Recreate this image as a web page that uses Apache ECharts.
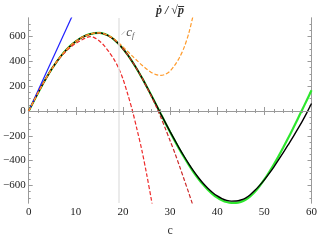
<!DOCTYPE html>
<html><head><meta charset="utf-8">
<script src="https://cdn.jsdelivr.net/npm/echarts@6/dist/echarts.min.js"></script>
<style>html,body{margin:0;padding:0;background:#fff}#c{width:320px;height:242px}</style>
</head><body><div id="c"></div>
<script>
// x grid for the exact curve and its close approximation
const cExact = [];
for (let i = 0; i <= 60; i++) cExact.push(i);
// exact curve (black)
const exactVals = [0,75,148,218,284,345,401,451,494,531,562,588,607,620,628,630,622,606,580,545,502,452,396,335,269,199,127,53,-22,-94,-166,-235,-303,-367,-428,-485,-536,-583,-623,-657,-685,-706,-721,-727,-726,-718,-703,-675,-640,-600,-555,-505,-452,-395,-335,-275,-215,-150,-85,-15,60];
// approximation (green)
const greenVals = [0,75,148,218,284,345,401,451,494,531,562,588,607,620,628,630,622,606,580,545,502,452,396,335,269,199,127,53,-22,-96,-170,-241,-310,-375,-437,-495,-547,-594,-635,-670,-698,-719,-734,-741,-741,-733,-716,-688,-652,-605,-552,-494,-432,-366,-295,-222,-147,-70,8,87,167];
// linear approximation (blue)
const cLinear = [0, 10];
const linearVals = [0, 830];
// bright red dashed approximation
const cRed1 = [0,1,2,3,4,5,6,7,8,9,10,11,12,13,14,15,16,17,18,19,20,21,22,23,24,25,26,27];
const red1Vals = [0,75,148,218,284,344,398,445,485,518,545,568,588,600,590,565,527,478,422,352,258,137,3,-152,-315,-505,-710,-930];
// darker red dashed approximation
const cRed2 = [0,1,2,3,4,5,6,7,8,9,10,11,12,13,14,15,16,17,18,19,20,21,22,23,24,25,26,27,28,29,30,31,32,33,34,35];
const red2Vals = [0,75,148,218,284,345,401,451,494,531,562,588,607,620,628,630,622,606,580,545,502,452,396,335,269,196,120,40,-48,-142,-240,-338,-445,-555,-665,-780];
// orange dashed approximation
const cOrange = [0,1,2,3,4,5,6,7,8,9,10,11,12,13,14,15,16,17,18,19,20,21,22,23,24,25,26,27,28,29,30,31,32,33,34,35];
const orangeVals = [0,75,148,218,284,345,401,451,494,531,562,588,607,620,628,630,623,608,585,554,517,480,443,406,371,339,311,293,287,296,322,370,432,515,632,790];
// c_f marker
const cF = 19.2;
// axis ticks
const yMajor = [-600,-400,-200,0,200,400,600];
const yMinor = [];
for (let v = -700; v <= 700; v += 50) yMinor.push(v);
const Y_MIN = -742, Y_MAX = 750;

const zip = (xs, ys) => xs.map((x, i) => [x, ys[i]]);
const serif = 'Liberation Serif';
const frame = '#9a9a9a';

const xBase = {
  type: 'value', min: 0, max: 60, interval: 10,
  axisLine: {show: true, lineStyle: {color: frame, width: 1}},
  axisTick: {show: true, inside: true, length: 4, lineStyle: {color: frame}},
  minorTick: {show: true, splitNumber: 5, length: 2, lineStyle: {color: frame}},
  splitLine: {show: false}, minorSplitLine: {show: false}
};
const yBase = (pos, vals, len, labels) => ({
  type: 'value', min: Y_MIN, max: Y_MAX, position: pos,
  axisLine: {show: true, lineStyle: {color: frame, width: 1}},
  axisTick: {show: true, inside: true, length: len, customValues: vals, lineStyle: {color: frame}},
  axisLabel: labels ? {show: true, customValues: vals, color: '#222', fontFamily: serif, fontSize: 11, margin: 3,
    formatter: v => (v < 0 ? '\u2212' + Math.abs(v) : String(v))} : {show: false},
  splitLine: {show: false}
});

const chart = echarts.init(document.getElementById('c'), null, {renderer: 'canvas'});
chart.setOption({
  animation: false,
  backgroundColor: '#fff',
  title: {
    text: '{a|\u1E57 / }{b|\u221A}{c|p\u0305}',
    left: 151, top: 0,
    textStyle: {rich: {
      a: {fontFamily: serif, fontStyle: 'italic', fontSize: 12, color: '#333'},
      b: {fontFamily: serif, fontSize: 12, color: '#333'},
      c: {fontFamily: serif, fontStyle: 'italic', fontSize: 12, color: '#333'}
    }}
  },
  grid: {left: 25, right: 6, top: 18, bottom: 31, containLabel: false},
  xAxis: [
    Object.assign({}, xBase, {position: 'bottom',
      name: 'c', nameLocation: 'middle', nameGap: 22,
      nameTextStyle: {fontFamily: serif, fontSize: 12, color: '#333'},
      axisLabel: {color: '#222', fontFamily: serif, fontSize: 11, margin: 4}}),
    Object.assign({}, xBase, {position: 'top', axisLabel: {show: false}})
  ],
  yAxis: [
    yBase('left', yMajor, 4, true),
    yBase('left', yMinor, 2, false),
    yBase('right', yMajor, 4, false),
    yBase('right', yMinor, 2, false)
  ],
  series: [
    {type: 'line', name: 'green', data: zip(cExact, greenVals), showSymbol: false, smooth: 0.3,
     lineStyle: {color: '#2ee62e', width: 2.2}, z: 2,
     markLine: {silent: true, symbol: 'none', animation: false,
       lineStyle: {color: '#e4e4e4', width: 1.5, type: 'solid'}, label: {show: false},
       data: [{xAxis: cF}]}},
    {type: 'line', name: 'exact', data: zip(cExact, exactVals), showSymbol: false, smooth: 0.3,
     lineStyle: {color: '#000', width: 1.4}, z: 3,
     markLine: {silent: true, symbol: 'none', animation: false,
       lineStyle: {color: '#9a9a9a', width: 1.2, type: 'solid'}, label: {show: false},
       data: [{yAxis: 0}]}},
    {type: 'line', name: 'linear', data: zip(cLinear, linearVals), showSymbol: false,
     lineStyle: {color: '#1f1fff', width: 1.2}, z: 4},
    {type: 'line', name: 'red1', data: zip(cRed1, red1Vals), showSymbol: false, smooth: 0.3,
     lineStyle: {color: '#ee2a2a', width: 1.2, type: [4, 2]}, z: 4},
    {type: 'line', name: 'red2', data: zip(cRed2, red2Vals), showSymbol: false, smooth: 0.3,
     lineStyle: {color: '#cc2a2a', width: 1.2, type: [4, 2]}, z: 4},
    {type: 'line', name: 'orange', data: zip(cOrange, orangeVals), showSymbol: false, smooth: 0.3,
     lineStyle: {color: '#ff9a2a', width: 1.2, type: [4, 2]}, z: 4,
     markPoint: {silent: true, symbol: 'circle', symbolSize: 1, animation: false,
       itemStyle: {color: 'rgba(0,0,0,0)'},
       data: [{coord: [20.6, 633], label: {show: true, position: 'right', distance: 0,
         formatter: '{c|c}{f|f}',
         rich: {c: {fontFamily: serif, fontStyle: 'italic', fontSize: 13, color: '#555'},
                f: {fontFamily: serif, fontStyle: 'italic', fontSize: 8, color: '#555', padding: [6, 0, 0, 0]}}}}]},
     markLine: {silent: true, symbol: 'none', animation: false,
       lineStyle: {color: '#aaa', width: 0.8, type: 'solid'}, label: {show: false},
       data: [[{coord: [19.7, 615]}, {coord: [20.4, 642]}]]}}
  ]
});
</script></body></html>
